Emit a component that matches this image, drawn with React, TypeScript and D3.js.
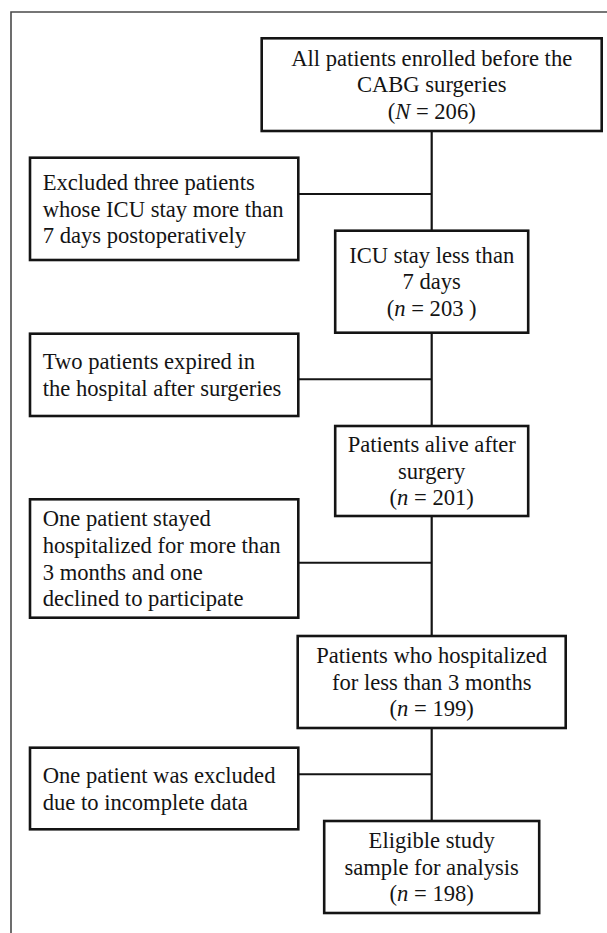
import { useEffect, useRef } from "react";
import * as d3 from "d3";

// main column boxes, top to bottom
const mainText = [
  ["All patients enrolled before the", "CABG surgeries"],
  ["ICU stay less than", "7 days"],
  ["Patients alive after", "surgery"],
  ["Patients who hospitalized", "for less than 3 months"],
  ["Eligible study", "sample for analysis"],
];
const mainSymbol = ["N", "n", "n", "n", "n"];
const mainCount = ["206", "203 ", "201", "199", "198"];

// exclusion boxes on the left
const exclText = [
  ["Excluded three patients", "whose ICU stay more than", "7 days postoperatively"],
  ["Two patients expired in", "the hospital after surgeries"],
  ["One patient stayed", "hospitalized for more than", "3 months and one", "declined to participate"],
  ["One patient was excluded", "due to incomplete data"],
];

// layout (px)
const W = 607;
const H = 933;
const cx = 431.7;
const mainBoxes = [
  { w: 340, y0: 38.3, y1: 131 },
  { w: 193, y0: 230.7, y1: 332.7 },
  { w: 193, y0: 426, y1: 516 },
  { w: 268, y0: 636, y1: 728 },
  { w: 215, y0: 821, y1: 913 },
];
const exclBoxes = [
  { y0: 157.7, y1: 260, link: 194 },
  { y0: 333.7, y1: 416, link: 379.3 },
  { y0: 499.3, y1: 617.7, link: 562.7 },
  { y0: 747.7, y1: 829.3, link: 774.3 },
];
const exclX0 = 30;
const exclX1 = 298.3;
const lineH = 26.7;
const fontSize = 22.6;
const ink = "#141414";

export default function App() {
  const ref = useRef<SVGSVGElement>(null);

  useEffect(() => {
    document.body.style.margin = "0";
    const svg = d3.select(ref.current);
    svg.selectAll("*").remove();
    svg.attr("width", W).attr("height", H);

    svg.append("rect").attr("width", W).attr("height", H).attr("fill", "#fff");

    // outer frame (only top and left are visible)
    svg.append("path")
      .attr("d", `M11,${H} V12 H${W}`)
      .attr("fill", "none")
      .attr("stroke", "#4a4a4a")
      .attr("stroke-width", 1.6);

    // central spine
    svg.append("line")
      .attr("x1", cx).attr("x2", cx)
      .attr("y1", mainBoxes[0].y1).attr("y2", mainBoxes[mainBoxes.length - 1].y0)
      .attr("stroke", ink).attr("stroke-width", 2.2);

    // connectors from exclusion boxes
    svg.selectAll("line.link")
      .data(exclBoxes)
      .join("line")
      .attr("class", "link")
      .attr("x1", exclX1).attr("x2", cx)
      .attr("y1", d => d.link).attr("y2", d => d.link)
      .attr("stroke", ink).attr("stroke-width", 2);

    const baseline = (y0: number, y1: number, n: number, i: number) =>
      (y0 + y1) / 2 + 7.7 + (i - (n - 1) / 2) * lineH;

    // main boxes
    const mg = svg.selectAll("g.main")
      .data(mainBoxes.map((b, i) => ({ ...b, i })))
      .join("g")
      .attr("class", "main");

    mg.append("rect")
      .attr("x", d => cx - d.w / 2)
      .attr("y", d => d.y0)
      .attr("width", d => d.w)
      .attr("height", d => d.y1 - d.y0)
      .attr("fill", "#fff")
      .attr("stroke", ink)
      .attr("stroke-width", 2.6);

    mg.each(function (d) {
      const g = d3.select(this);
      const lines = mainText[d.i];
      const n = lines.length + 1;
      lines.forEach((t, j) => {
        g.append("text")
          .attr("x", cx)
          .attr("y", baseline(d.y0, d.y1, n, j))
          .attr("text-anchor", "middle")
          .attr("font-family", "'Liberation Serif', 'Times New Roman', serif")
          .attr("font-size", fontSize)
          .attr("fill", ink)
          .text(t);
      });
      const c = g.append("text")
        .attr("x", cx)
        .attr("y", baseline(d.y0, d.y1, n, n - 1))
        .attr("text-anchor", "middle")
        .attr("font-family", "'Liberation Serif', 'Times New Roman', serif")
        .attr("font-size", fontSize)
        .attr("fill", ink);
      c.append("tspan").text("(");
      c.append("tspan").attr("font-style", "italic").text(mainSymbol[d.i]);
      c.append("tspan").text(` = ${mainCount[d.i]})`);
    });

    // exclusion boxes
    const eg = svg.selectAll("g.excl")
      .data(exclBoxes.map((b, i) => ({ ...b, i })))
      .join("g")
      .attr("class", "excl");

    eg.append("rect")
      .attr("x", exclX0)
      .attr("y", d => d.y0)
      .attr("width", exclX1 - exclX0)
      .attr("height", d => d.y1 - d.y0)
      .attr("fill", "#fff")
      .attr("stroke", ink)
      .attr("stroke-width", 2.6);

    eg.each(function (d) {
      const g = d3.select(this);
      const lines = exclText[d.i];
      lines.forEach((t, j) => {
        g.append("text")
          .attr("x", exclX0 + 12.7)
          .attr("y", baseline(d.y0, d.y1, lines.length, j))
          .attr("font-family", "'Liberation Serif', 'Times New Roman', serif")
          .attr("font-size", fontSize)
          .attr("fill", ink)
          .text(t);
      });
    });
  }, []);

  return <svg ref={ref} style={{ display: "block" }}></svg>;
}
